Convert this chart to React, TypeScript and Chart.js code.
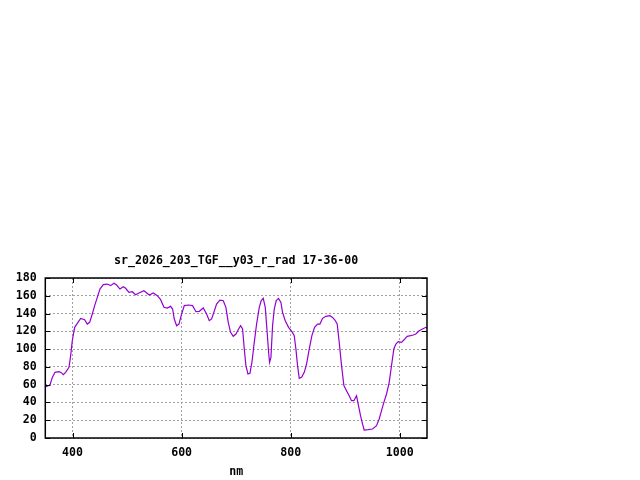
import { useEffect, useRef } from "react";
import { Chart, registerables } from "chart.js";

Chart.register(...registerables);

const titleText = "sr_2026_203_TGF__y03_r_rad 17-36-00";
const xLabel = "nm";
const xTicks = [400, 600, 800, 1000];

// wavelength (nm) and radiance
const wavelength = [
  350.7, 358.6, 362.9, 367.8, 375.1, 379.4, 383, 387.3, 393.4, 396.5, 399.5,
  403.8, 408.7, 414.8, 422.1, 427, 431.3, 436.2, 440.5, 445.4, 450.2, 456.4,
  463.7, 469.8, 475.9, 480.8, 486.9, 493, 497.3, 503.4, 509.5, 515.6, 521.7,
  530.9, 540.7, 548, 555.4, 561.5, 567.6, 573.7, 579.8, 583.5, 586.5, 590.8,
  595.1, 600, 604.9, 612.2, 620.1, 626.3, 632.4, 639.7, 645.8, 650.7, 655,
  659.2, 664.1, 670.2, 676.4, 681.2, 685.5, 689.8, 694.7, 699.6, 704.5, 708.2,
  711.8, 714.9, 717.9, 721.6, 725.3, 728.9, 733.2, 737.5, 742.4, 746, 749.7,
  753.4, 756.4, 759.5, 761.3, 763.8, 766.8, 769.9, 773.5, 777.8, 782.1, 785.1,
  790, 796.1, 802.3, 806.5, 809.6, 812.6, 815.7, 820, 824.9, 829.1, 834,
  838.9, 843.8, 849.3, 853.6, 858.5, 864.6, 871.9, 876.8, 881.1, 885.3, 889,
  893.3, 897.6, 902.4, 907.3, 911.6, 915.9, 920.8, 923.8, 928.1, 931.8, 934.8,
  942.2, 950.1, 957.4, 962.3, 966.6, 970.9, 975.8, 980.7, 984.9, 989.2, 992.9,
  997.2, 1003.3, 1007.5, 1013.7, 1019.8, 1024.7, 1029.5, 1035.7, 1041.8,
  1047.9, 1050,
];
const radiance = [
  57.7, 59.6, 68.2, 73.9, 74.6, 73.5, 71.2, 73.9, 79.5, 92.6, 109.5, 124.5,
  129, 134.6, 133.1, 128.2, 130.1, 139.5, 148.9, 158.2, 167.6, 172.5, 173.2,
  171.4, 174, 172.1, 167.6, 170.2, 168.4, 163.9, 164.6, 161.2, 163.1, 165.7,
  160.9, 163.1, 160.1, 155.6, 147, 146.2, 148.1, 145.1, 133.8, 126.3, 128.2,
  139.5, 148.9, 149.6, 148.9, 142.1, 142.5, 146.2, 139.5, 132, 133.9, 141.4,
  150.7, 155.2, 154.5, 147, 130.1, 118.9, 114.4, 117, 122.6, 126.4, 122.6,
  100.1, 81.4, 72, 72.7, 85.1, 107.6, 128.2, 147, 154.5, 157.1, 147, 122.6,
  96.4, 85.1, 90.7, 126.4, 145.1, 154.5, 157.1, 152.6, 141.4, 132, 124.5,
  119.6, 115.1, 100.1, 81.4, 67.1, 68.2, 73.9, 83.2, 100.1, 115.1, 124.5,
  128.2, 128.2, 134.6, 136.9, 137.6, 135.7, 132.7, 128.2, 107.6, 81.4, 58.9,
  53.2, 47.6, 42, 42, 47.6, 38.2, 25.1, 15.7, 9, 9.4, 10.1, 13.9, 21.4, 30.8,
  40.1, 49.5, 62.6, 81.4, 100.1, 105.7, 108.4, 107.6, 110.2, 114.4, 115.1,
  115.9, 117, 120.7, 122.6, 124.5, 123.5,
];

const FONT = { family: "'DejaVu Sans Mono', monospace", size: 11.6, weight: "bold" as const };

const frame = {
  id: "frame",
  afterDraw(chart: Chart) {
    const { ctx, chartArea: a } = chart;
    const xs = chart.scales.x;
    const ys = chart.scales.y;
    ctx.save();
    ctx.strokeStyle = "#000";
    ctx.lineWidth = 1;
    ctx.beginPath();
    for (const v of xTicks) {
      const px = Math.round(xs.getPixelForValue(v)) + 0.5;
      ctx.moveTo(px, a.bottom);
      ctx.lineTo(px, a.bottom - 5);
      ctx.moveTo(px, a.top);
      ctx.lineTo(px, a.top + 5);
    }
    for (const t of ys.ticks) {
      const py = Math.round(ys.getPixelForValue(t.value)) + 0.5;
      ctx.moveTo(a.left, py);
      ctx.lineTo(a.left + 5, py);
      ctx.moveTo(a.right, py);
      ctx.lineTo(a.right - 5, py);
    }
    ctx.stroke();
    ctx.lineWidth = 1.5;
    ctx.strokeRect(a.left, a.top, a.right - a.left, a.bottom - a.top);
    ctx.fillStyle = "#000";
    ctx.font = `bold 11.6px 'DejaVu Sans Mono', monospace`;
    ctx.textAlign = "center";
    ctx.textBaseline = "middle";
    ctx.fillText(titleText, (a.left + a.right) / 2, 261);
    ctx.restore();
  },
};

const App = () => {
  const canvasRef = useRef<HTMLCanvasElement>(null);

  useEffect(() => {
    if (!canvasRef.current) return;
    const ctx = canvasRef.current.getContext("2d");

    const chart = new Chart(ctx!, {
      type: "line",
      data: {
        datasets: [
          {
            data: wavelength.map((w, i) => ({ x: w, y: radiance[i] })),
            borderColor: "#9400d3",
            borderWidth: 1.2,
            pointRadius: 0,
            tension: 0,
          },
        ],
      },
      options: {
        animation: false,
        responsive: true,
        maintainAspectRatio: false,
        layout: { padding: { left: 0, top: 278, right: 213, bottom: 0 } },
        plugins: { legend: { display: false }, tooltip: { enabled: false } },
        scales: {
          x: {
            type: "linear",
            min: 350,
            max: 1050,
            afterBuildTicks: (scale) => {
              scale.ticks = xTicks.map((v) => ({ value: v }));
            },
            afterFit: (scale) => {
              scale.height = 42;
            },
            grid: { color: "#a0a0a0", drawTicks: false },
            border: { display: false, dash: [2, 2] },
            ticks: {
              color: "#000",
              font: FONT,
              padding: 8.5,
              callback: (v) => String(v),
            },
            title: {
              display: true,
              text: xLabel,
              color: "#000",
              font: FONT,
              padding: { top: 0, bottom: 1.5 },
            },
          },
          y: {
            min: 0,
            max: 180,
            afterFit: (scale) => {
              scale.width = 45.3;
            },
            grid: { color: "#a0a0a0", drawTicks: false },
            border: { display: false, dash: [2, 2] },
            ticks: {
              color: "#000",
              font: FONT,
              padding: 8.6,
              stepSize: 20,
              callback: (v) => String(v),
            },
          },
        },
      },
      plugins: [frame],
    });

    return () => {
      chart.destroy();
    };
  }, []);

  return (
    <div style={{ position: "fixed", left: 0, top: 0, width: 640, height: 480, background: "#fff" }}>
      <canvas ref={canvasRef}></canvas>
    </div>
  );
};

export default App;
